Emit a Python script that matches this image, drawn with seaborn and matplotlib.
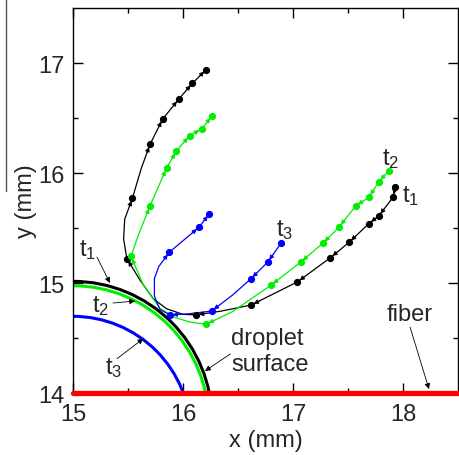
import numpy as np
import pandas as pd
import matplotlib
matplotlib.use("Agg")
import matplotlib.pyplot as plt
from matplotlib.patches import Circle
from matplotlib.lines import Line2D
import seaborn as sns

# ---------------- data ----------------
# trajectory t1 (black), ordered along the motion
t1_x = [17.93, 17.91, 17.78, 17.69, 17.51, 17.34, 17.04, 16.62, 16.35, 16.12, 16.00, 15.85,
        15.73, 15.61, 15.49, 15.46, 15.47, 15.54, 15.62, 15.70, 15.815, 15.96, 16.085, 16.21]
t1_y = [15.87, 15.78, 15.61, 15.54, 15.37, 15.23, 15.01, 14.80, 14.745, 14.71, 14.715, 14.766,
        14.857, 15.025, 15.22, 15.40, 15.58, 15.77, 16.04, 16.26, 16.49, 16.67, 16.815, 16.94]
t1_dots = [0, 1, 2, 3, 4, 5, 6, 7, 9, 14, 17, 19, 20, 21, 22, 23]

# trajectory t2 (green)
t2_x = [17.87, 17.78, 17.69, 17.57, 17.42, 17.27, 17.07, 16.80, 16.45, 16.21, 16.06, 15.92,
        15.79, 15.64, 15.527, 15.60, 15.70, 15.85, 15.94, 16.06, 16.17, 16.264]
t2_y = [16.02, 15.92, 15.78, 15.70, 15.51, 15.36, 15.19, 14.98, 14.74, 14.625, 14.645, 14.69,
        14.77, 14.98, 15.243, 15.45, 15.70, 16.045, 16.20, 16.34, 16.40, 16.52]
t2_dots = [0, 1, 2, 3, 4, 5, 6, 7, 9, 14, 16, 17, 18, 19, 20, 21]

# trajectory t3 (blue)
t3_x = [16.89, 16.77, 16.615, 16.45, 16.26, 16.05, 15.88, 15.79, 15.74, 15.74, 15.78, 15.876,
        16.145, 16.24]
t3_y = [15.36, 15.19, 15.036, 14.89, 14.745, 14.72, 14.71, 14.76, 14.88, 15.04, 15.15, 15.28,
        15.506, 15.63]
t3_dots = [0, 1, 2, 4, 6, 11, 12, 13]

# droplet surface at t1, t2, t3 : circle centre and radius
drop_x0 = [15.0, 15.0, 15.0]
drop_y0 = [13.751, 13.742, 13.627]
drop_r = [1.264, 1.233, 1.070]
colors = ["black", "#00ee00", "#0000ff"]

fiber_x = [15.0, 18.5]
fiber_y = [14.0, 14.0]

# ---------------- style ----------------
sns.set_style("ticks")
plt.rcParams["font.family"] = ["Liberation Sans", "DejaVu Sans"]
plt.rcParams["mathtext.fontset"] = "custom"
plt.rcParams["mathtext.rm"] = "Liberation Sans"
plt.rcParams["mathtext.default"] = "regular"

FS = 17
W, H = 459, 456
fig = plt.figure(figsize=(W / 100, H / 100), dpi=100)
ax = fig.add_axes([73 / W, 62 / H, (458 - 73) / W, (394 - 9) / H])

# droplet surfaces
for x0, y0, r, c in zip(drop_x0, drop_y0, drop_r, colors):
    ax.add_patch(Circle((x0, y0), r, fill=False, ec=c, lw=2.2, zorder=2))

# trajectories
for xs, ys, dots, c in [(t1_x, t1_y, t1_dots, colors[0]),
                        (t2_x, t2_y, t2_dots, colors[1]),
                        (t3_x, t3_y, t3_dots, colors[2])]:
    df = pd.DataFrame({"x": xs, "y": ys})
    sns.lineplot(data=df, x="x", y="y", sort=False, estimator=None, color=c,
                 lw=0.9, ax=ax, zorder=3)
    ax.plot([xs[i] for i in dots], [ys[i] for i in dots], "o", color=c, ms=4.2,
            mec=c, zorder=4)
    # small arrowheads just upstream of each dot, pointing along the motion
    for i in dots:
        if i == 0:
            continue
        d = np.array([xs[i] - xs[i - 1], ys[i] - ys[i - 1]])
        d = d / np.hypot(*d)
        tip = np.array([xs[i], ys[i]]) - 0.025 * d
        tail = tip - 0.06 * d
        ax.annotate("", xy=tip, xytext=tail,
                    arrowprops=dict(arrowstyle="-|>", color=c, lw=0.6,
                                    mutation_scale=7, shrinkA=0, shrinkB=0),
                    zorder=4)

# fiber
sns.lineplot(x=fiber_x, y=fiber_y, color="#ff0000", lw=3.8, ax=ax, zorder=5)
for l in ax.lines[-1:]:
    l.set_clip_on(False)

# annotations
arr = dict(arrowstyle="-|>", color="black", lw=0.6, mutation_scale=8,
           shrinkA=0, shrinkB=0)
ax.annotate("", xy=(15.336, 15.0), xytext=(15.218, 15.236), arrowprops=arr, zorder=6)
ax.text(15.136, 15.31, "t$_1$", fontsize=FS, ha="center", va="center")
ax.annotate("", xy=(15.564, 14.836), xytext=(15.364, 14.818), arrowprops=arr, zorder=6)
ax.text(15.255, 14.80, "t$_2$", fontsize=FS, ha="center", va="center")
ax.annotate("", xy=(15.639, 14.494), xytext=(15.40, 14.312), arrowprops=arr, zorder=6)
ax.text(15.373, 14.236, "t$_3$", fontsize=FS, ha="center", va="center")
ax.annotate("", xy=(16.2, 14.20), xytext=(16.43, 14.355), arrowprops=arr, zorder=6)
ax.text(16.436, 14.38, "droplet\nsurface", fontsize=FS, ha="left", va="center",
        linespacing=1.2)
ax.annotate("", xy=(18.236, 14.036), xytext=(18.064, 14.60), arrowprops=arr, zorder=6)
ax.text(18.064, 14.72, "fiber", fontsize=FS, ha="center", va="center")
ax.text(17.89, 16.14, "t$_2$", fontsize=FS, ha="center", va="center")
ax.text(18.07, 15.80, "t$_1$", fontsize=FS, ha="center", va="center")
ax.text(16.92, 15.49, "t$_3$", fontsize=FS, ha="center", va="center")

# axes
ax.set_xlim(15, 18.5)
ax.set_ylim(14, 17.5)
ax.set_xticks([15, 16, 17, 18])
ax.set_yticks([14, 15, 16, 17])
ax.set_xticks(np.arange(15.5, 18.5, 1.0), minor=True)
ax.set_yticks(np.arange(14.5, 17.5, 1.0), minor=True)
ax.tick_params(which="both", direction="in", top=True, right=True, labelsize=FS,
               width=1.0, color="black")
ax.tick_params(which="major", length=7)
ax.tick_params(which="minor", length=3.5)
ax.tick_params(axis="x", pad=7)
ax.tick_params(axis="y", pad=6)
for s in ax.spines.values():
    s.set_linewidth(1.0)
    s.set_color("black")
ax.set_xlabel("x (mm)", fontsize=FS, labelpad=3)
ax.set_ylabel("y (mm)", fontsize=FS, labelpad=1)

# thin grey edge line seen at the left border of the original
fig.add_artist(Line2D([5.7 / W, 5.7 / W], [1.0, (H - 192) / H], color="#555555", lw=1.0))

fig.savefig("out.png", dpi=100)
